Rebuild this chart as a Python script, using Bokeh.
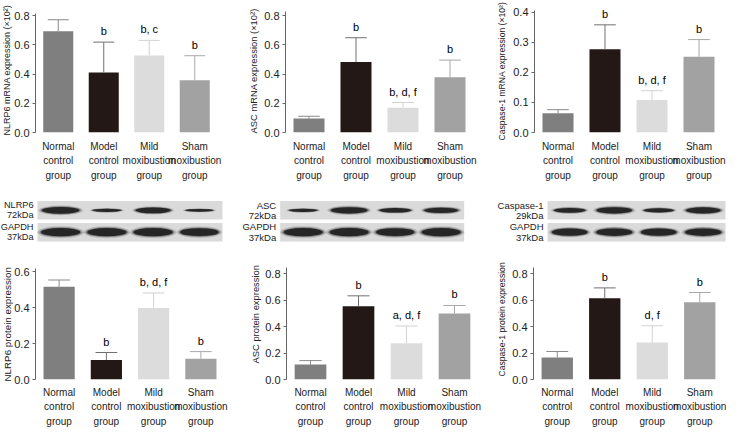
import numpy as np
from bokeh.plotting import figure
from bokeh.layouts import column, row
from bokeh.models import FixedTicker, Range1d, NumeralTickFormatter, Title
from bokeh.embed import file_html
from bokeh.resources import INLINE
from bokeh.core.properties import value

FONT = "Liberation Sans"
TXT = "#222222"

# ---------------- data ----------------
groups = ["Normal\ncontrol\ngroup", "Model\ncontrol\ngroup",
          "Mild\nmoxibustion\ngroup", "Sham\nmoxibustion\ngroup"]
bar_colors = ["#7f7f7f", "#231815", "#dcdcdc", "#a2a2a2"]
whisker_colors = ["#8a8a8a", "#707070", "#d2d2d2", "#a8a8a8"]

nlrp6_mrna = [0.693, 0.411, 0.527, 0.357]
nlrp6_mrna_sd = [0.078, 0.207, 0.103, 0.168]
nlrp6_mrna_sig = ["", "b", "b, c", "b"]

asc_mrna = [0.095, 0.482, 0.170, 0.377]
asc_mrna_sd = [0.016, 0.166, 0.035, 0.118]
asc_mrna_sig = ["", "b", "b, d, f", "b"]

casp_mrna = [0.064, 0.277, 0.108, 0.252]
casp_mrna_sd = [0.012, 0.081, 0.031, 0.057]
casp_mrna_sig = ["", "b", "b, d, f", "b"]

nlrp6_prot = [0.516, 0.108, 0.397, 0.116]
nlrp6_prot_sd = [0.037, 0.042, 0.084, 0.039]
nlrp6_prot_sig = ["", "b", "b, d, f", "b"]

asc_prot = [0.113, 0.555, 0.275, 0.500]
asc_prot_sd = [0.030, 0.078, 0.130, 0.060]
asc_prot_sig = ["", "b", "a, d, f", "b"]

casp_prot = [0.166, 0.614, 0.280, 0.585]
casp_prot_sd = [0.046, 0.079, 0.127, 0.073]
casp_prot_sig = ["", "b", "d, f", "b"]

ticks_08 = [0.0, 0.2, 0.4, 0.6, 0.8]
ticks_04 = [0.0, 0.1, 0.2, 0.3, 0.4]
ticks_06 = [0.0, 0.2, 0.4, 0.6]

# western blot band strengths (relative)
nlrp6_band = [0.9, 0.35, 0.75, 0.3]
nlrp6_gapdh = [1.0, 1.0, 1.0, 0.95]
asc_band = [0.35, 0.85, 0.55, 0.7]
asc_gapdh = [1.0, 1.0, 0.95, 1.0]
casp_band = [0.6, 0.85, 0.5, 0.8]
casp_gapdh = [0.85, 0.9, 0.85, 0.9]


def bar_panel(ylabel, means, sds, sig, yticks, W, H, L, R, B, yend, ybound,
              lab_offset, lab_size, lab_stand, xstand):
    n = len(means)
    x = np.arange(n) + 0.5
    means = np.array(means)
    tops = means + np.array(sds)
    p = figure(width=W, height=H, x_range=Range1d(0, n), y_range=Range1d(0, yend),
               output_backend="svg", toolbar_location=None,
               min_border_left=L, min_border_right=R, min_border_top=0,
               min_border_bottom=B)
    p.grid.visible = False
    p.outline_line_color = None
    p.background_fill_color = "white"
    p.border_fill_color = "white"
    p.vbar(x=x, top=means, width=0.66, fill_color=bar_colors, line_color=None)
    p.segment(x0=x, y0=means, x1=x, y1=tops, line_color=whisker_colors, line_width=1)
    p.segment(x0=x - 0.23, y0=tops, x1=x + 0.23, y1=tops,
              line_color=whisker_colors, line_width=1)
    p.text(x=x, y=tops, text=sig, text_align="center", text_baseline="bottom",
           y_offset=-5, text_font=value(FONT), text_font_size="11px",
           text_color="black")
    # x axis
    xa = p.xaxis[0]
    xa.ticker = FixedTicker(ticks=list(x))
    xa.major_label_overrides = {float(xi): g for xi, g in zip(x, groups)}
    xa.axis_line_color = None
    xa.major_tick_line_color = None
    xa.minor_tick_line_color = None
    xa.major_tick_out = 0
    xa.major_label_standoff = xstand
    xa.major_label_text_font = FONT
    xa.major_label_text_font_size = "10px"
    xa.major_label_text_color = TXT
    xa.major_label_text_line_height = 1.35
    # y axis
    ya = p.yaxis[0]
    ya.ticker = FixedTicker(ticks=yticks)
    ya.formatter = NumeralTickFormatter(format="0.0")
    ya.bounds = (0, ybound)
    ya.axis_line_color = "#666666"
    ya.major_tick_line_color = "#666666"
    ya.minor_tick_line_color = None
    ya.major_tick_out = 3
    ya.major_tick_in = 0
    ya.major_label_standoff = 3
    ya.major_label_text_font = FONT
    ya.major_label_text_font_size = "11px"
    ya.major_label_text_color = TXT
    p.add_layout(Title(text=ylabel, align="left", vertical_align="middle",
                       offset=lab_offset, standoff=lab_stand,
                       text_font=FONT, text_font_size=lab_size,
                       text_font_style="normal", text_color=TXT), "left")
    return p


def blot_panel(name, kda, target, gapdh, W, box_left, box_w, size):
    H = 65
    unit = box_w / 4.0
    yunit = 21.8
    y0_px = 46.65
    p = figure(width=W, height=H,
               x_range=Range1d(-box_left / unit, (W - box_left) / unit),
               y_range=Range1d(-(H - y0_px) / yunit, y0_px / yunit),
               output_backend="svg", toolbar_location=None,
               min_border_left=0, min_border_right=0, min_border_top=0,
               min_border_bottom=0,
               x_axis_location=None, y_axis_location=None)
    p.grid.visible = False
    p.outline_line_color = None
    p.background_fill_color = "white"
    p.border_fill_color = "white"
    rows = [1.0, 0.0]
    p.quad(left=0, right=4, bottom=[r - 0.425 for r in rows],
           top=[r + 0.425 for r in rows], fill_color="#dadada", line_color=None)
    lanes = np.arange(4) + 0.5
    for yc, strengths, hscale in ((1.0, target, 0.30), (0.0, gapdh, 0.34)):
        s = np.array(strengths)
        w = 0.5 + 0.35 * s
        h = hscale * s + 0.04
        for k, a in ((1.45, 0.18), (1.2, 0.35), (1.0, 0.9)):
            p.ellipse(x=lanes, y=np.full(4, yc), width=w * (1 + (k - 1) * 0.4),
                      height=h * k, fill_color="#1c1c1c", fill_alpha=a,
                      line_color=None)
    lx = -4.0 / unit
    labels = [(1.24, name), (0.77, kda), (0.24, "GAPDH"), (-0.23, "37kDa")]
    p.text(x=[lx] * 4, y=[l[0] for l in labels], text=[l[1] for l in labels],
           text_align="right", text_baseline="middle", text_font=value(FONT),
           text_font_size=size, text_color=TXT)
    return p


TH, BH = 185, 180
p1 = bar_panel("NLRP6 mRNA expression (×10²)", nlrp6_mrna, nlrp6_mrna_sd, nlrp6_mrna_sig,
               ticks_08, 237, TH, 35, 20, 53, 0.9026, 0.814, -3, "9px", -3, 8)
p2 = bar_panel("ASC mRNA expression (×10²)", asc_mrna, asc_mrna_sd, asc_mrna_sig,
               ticks_08, 245, TH, 48, 9, 53, 0.9026, 0.827, -1, "9.4px", 4, 8)
p3 = bar_panel("Caspase-1 mRNA expression (×10²)", casp_mrna, casp_mrna_sd, casp_mrna_sig,
               ticks_04, 244, TH, 52, 4, 53, 0.4389, 0.4056, -8, "8.6px", 5, 8)

b1 = blot_panel("NLRP6", "72kDa", nlrp6_band, nlrp6_gapdh, 237, 37, 185, "9.2px")
b2 = blot_panel("ASC", "72kDa", asc_band, asc_gapdh, 245, 42.7, 184, "9.5px")
b3 = blot_panel("Caspase-1", "29kDa", casp_band, casp_gapdh, 244, 65, 178, "9.5px")

p4 = bar_panel("NLRP6 protein expression", nlrp6_prot, nlrp6_prot_sd, nlrp6_prot_sig,
               ticks_06, 237, BH, 35, 13, 47, 0.717, 0.618, -2, "9.8px", -4, 7)
p5 = bar_panel("ASC protein expression", asc_prot, asc_prot_sd, asc_prot_sig,
               ticks_08, 245, BH, 49, 4, 47, 0.976, 0.846, 16, "9.4px", 2, 7)
p6 = bar_panel("Caspase-1 protein expression", casp_prot, casp_prot_sd, casp_prot_sig,
               ticks_08, 244, BH, 51, 3, 47, 0.976, 0.846, 3, "8.6px", 4, 7)

layout = column(row(p1, p2, p3), row(b1, b2, b3), row(p4, p5, p6))

open("out.html", "w").write(file_html(layout, INLINE))
